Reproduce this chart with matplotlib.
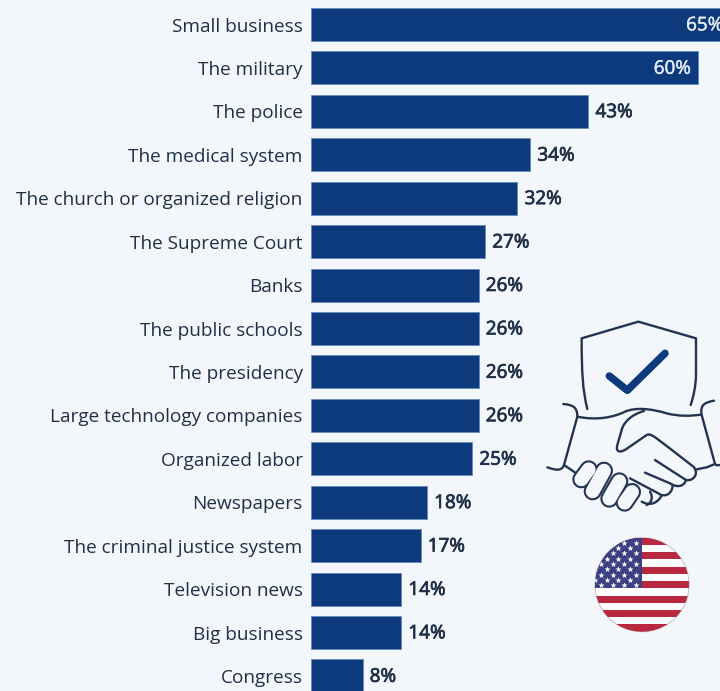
import numpy as np
import matplotlib
matplotlib.use("Agg")
import matplotlib.pyplot as plt
import matplotlib.patheffects as pe
from matplotlib.path import Path
from matplotlib.patches import PathPatch, Circle, Rectangle

institutions = ["Small business", "The military", "The police", "The medical system",
                "The church or organized religion", "The Supreme Court", "Banks",
                "The public schools", "The presidency", "Large technology companies",
                "Organized labor", "Newspapers", "The criminal justice system",
                "Television news", "Big business", "Congress"]
confidence = [65, 60, 43, 34, 32, 27, 26, 26, 26, 26, 25, 18, 17, 14, 14, 8]

W, H = 720, 691
BG = "#f3f7fb"
NAVY = "#0c3a7d"
INK = "#1f3047"
LINE = "#22344f"

plt.rcParams["font.family"] = "Open Sans"
fig = plt.figure(figsize=(W / 100, H / 100), dpi=100, facecolor=BG)

# Bar panel: 6.45 px per percentage point, rows 43.43 px apart
ax = fig.add_axes([311 / W, 0, 1 - 311 / W, 1], facecolor="none")
ax.set_xlim(0, (W - 311) / 6.45)
row = 43.43
ax.set_ylim((H - 24.5) / row, -24.5 / row)
ax.barh(range(len(confidence)), confidence, height=33 / row, color=NAVY,
        edgecolor="#5f86b8", linewidth=0.5)
ax.set_yticks(range(len(institutions)), institutions, fontsize=13.7, color=INK)
ax.tick_params(axis="y", length=0, pad=6)
ax.xaxis.set_visible(False)
for s in ax.spines.values():
    s.set_visible(False)

# Value labels: regular face with a thin outline for a bold weight of the same width
for i, v in enumerate(confidence):
    inside = v >= 60
    colour = "#e6edf6" if inside else INK
    weight = 0.3 if inside else 0.55
    ax.text(v - 1.05 if inside else v + 1.1, i + 0.02, f"{v}%",
            ha="right" if inside else "left", va="center", fontsize=13.6, color=colour,
            path_effects=[pe.withStroke(linewidth=weight, foreground=colour)])

# Handshake and shield emblem, drawn in its own local coordinates
icon = fig.add_axes([540 / W, 1 - 510 / H, 180 / W, 200 / H], facecolor="none")
icon.set_xlim(0, 540)
icon.set_ylim(600, 0)
icon.axis("off")
C4, L, M = Path.CURVE4, Path.LINETO, Path.MOVETO


def stroke(verts, codes, lw=1.7, color=LINE, z=3):
    patch = PathPatch(Path(verts, codes), fill=False, edgecolor=color, lw=lw,
                      capstyle="round", joinstyle="round", zorder=z, clip_on=False)
    icon.add_patch(patch)


stroke([(142, 297), (128, 240), (125, 190), (125, 85), (295, 35), (468, 85),
        (468, 190), (468, 230), (460, 260), (452, 285)],
       [M, C4, C4, C4, L, L, L, C4, C4, C4])
stroke([(208, 198), (262, 241), (375, 130)], [M, L, L], lw=5.4, color=NAVY)
# cuffs and wrist line
stroke([(70, 282), (100, 285), (112, 292), (112, 320), (170, 332), (220, 322), (255, 305),
        (285, 292), (330, 295), (380, 310), (420, 320), (450, 318), (482, 314)],
       [M, C4, C4, C4, C4, C4, C4, C4, C4, C4, C4, C4, C4])
stroke([(522, 272), (492, 278), (480, 285), (485, 315), (525, 462), (530, 466), (540, 465)],
       [M, C4, C4, C4, L, L, L])
stroke([(112, 320), (72, 465), (65, 485), (45, 480), (22, 472)], [M, L, C4, C4, C4])
stroke([(72, 465), (112, 492)], [M, L])
# right hand with thumb
stroke([(312, 303), (270, 315), (250, 340), (245, 360), (232, 405), (225, 430), (245, 428),
        (262, 415), (320, 375), (335, 368), (345, 382), (460, 470), (478, 488), (462, 515),
        (438, 510), (345, 450)],
       [M, C4, C4, C4, L, C4, C4, C4, L, C4, C4, L, C4, C4, C4, L])
stroke([(438, 510), (430, 535), (405, 530), (390, 520), (315, 488)], [M, C4, C4, C4, L])
stroke([(398, 525), (398, 550), (375, 565), (355, 550), (270, 505)], [M, C4, C4, C4, L])
stroke([(365, 556), (355, 578), (330, 590), (305, 575)], [M, C4, C4, C4])
stroke([(330, 545), (340, 560), (335, 580), (320, 585)], [M, C4, C4, C4])
stroke([(525, 462), (500, 472), (470, 478)], [M, L, L])

# left-hand fingers as outlined capsules
for (x0, y0), (x1, y1) in [((146, 478), (124, 508)), ((192, 482), (158, 544)),
                           ((238, 514), (208, 566)), ((276, 546), (254, 578))]:
    icon.plot([x0, x1], [y0, y1], color=LINE, lw=13.0, solid_capstyle="round",
              zorder=4, clip_on=False)
    icon.plot([x0, x1], [y0, y1], color=BG, lw=10.0, solid_capstyle="round",
              zorder=5, clip_on=False)

# Round US flag
flag = fig.add_axes([580 / W, 1 - 640 / H, 125 / W, 115 / H], facecolor="none")
flag.set_xlim(0, 125)
flag.set_ylim(115, 0)
flag.axis("off")
cx, cy, r = 62, 59.7, 47
disc = Circle((cx, cy), r, transform=flag.transData, facecolor="white",
              edgecolor="#c9c4c8", lw=0.8, zorder=1)
flag.add_patch(disc)
clip = Circle((cx, cy), r, transform=flag.transData)
stripe_h = 2 * r / 13
for k in range(0, 13, 2):
    p = Rectangle((cx - r, cy - r + k * stripe_h), 2 * r, stripe_h, facecolor="#b8283f", zorder=2)
    flag.add_patch(p)
    p.set_clip_path(clip)
canton = Rectangle((cx - r, cy - r), r, 7 * stripe_h, facecolor="#3c3f82", zorder=3)
flag.add_patch(canton)
canton.set_clip_path(clip)
sx, sy = [], []
for j in range(9):
    for m in range(4):
        sx.append(cx - 6 - m * 11.7 - (5.85 if j % 2 else 0))
        sy.append(cy - r + 5 + j * 5.3)
for j in range(0, 9, 2):
    sx.append(cx - 6 - 4 * 11.7)
    sy.append(cy - r + 5 + j * 5.3)
stars = flag.scatter(sx, sy, marker="*", s=22, color="white", linewidths=0, zorder=4)
stars.set_clip_path(clip)

fig.savefig("out.png", dpi=100, facecolor=BG)
